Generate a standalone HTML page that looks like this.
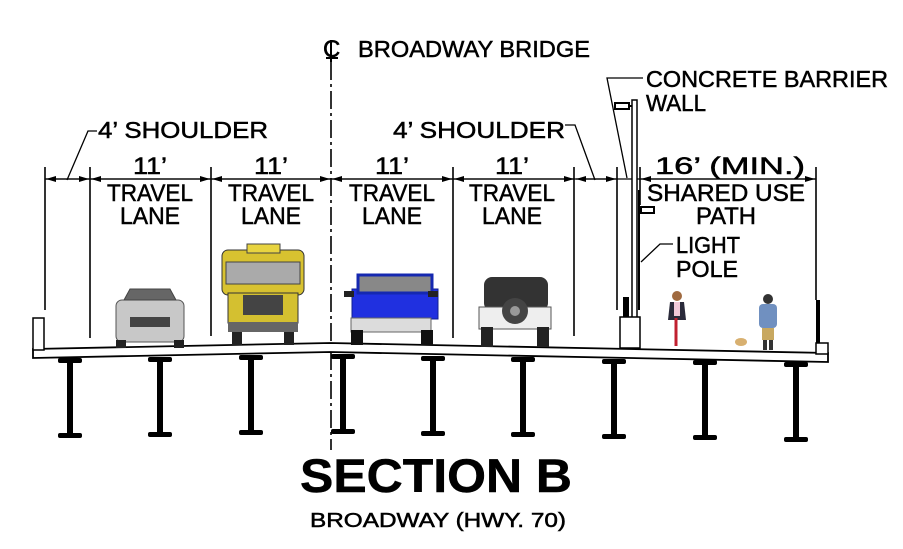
<!DOCTYPE html>
<html><head><meta charset="utf-8"><style>
html,body{margin:0;padding:0;background:#fff}
svg{display:block}
text{font-family:"Liberation Sans",sans-serif;fill:#000}
.t{stroke:#000;stroke-width:0.5}
</style></head><body>
<svg width="903" height="549" viewBox="0 0 903 549" xmlns="http://www.w3.org/2000/svg">
<defs>
<marker id="a" viewBox="0 0 10 6" refX="10" refY="3" markerWidth="10" markerHeight="6" orient="auto-start-reverse" markerUnits="userSpaceOnUse"><path d="M0,0L10,3L0,6Z" fill="#000"/></marker>
<g id="g"><rect x="-12" y="0" width="24" height="5" rx="2"/><rect x="-3" y="3" width="6" height="74"/><rect x="-12" y="75" width="24" height="5" rx="2"/></g>
</defs>
<!-- centerline -->
<line x1="331" y1="62" x2="331" y2="450" stroke="#000" stroke-width="1.6" stroke-dasharray="18,4,3,4"/>
<text x="323" y="57" font-size="24" class="t">C</text>
<line x1="331" y1="40" x2="331" y2="62" stroke="#000" stroke-width="2"/>
<line x1="326" y1="58" x2="338" y2="58" stroke="#000" stroke-width="2"/>
<g class="t">
<text x="358" y="57" font-size="23" textLength="232" lengthAdjust="spacingAndGlyphs">BROADWAY BRIDGE</text>
<text x="98" y="138" font-size="23" textLength="170" lengthAdjust="spacingAndGlyphs">4’ SHOULDER</text>
<text x="393" y="138" font-size="23" textLength="172" lengthAdjust="spacingAndGlyphs">4’ SHOULDER</text>
<text x="646" y="87" font-size="23" textLength="242" lengthAdjust="spacingAndGlyphs">CONCRETE BARRIER</text>
<text x="646" y="111" font-size="23" textLength="60" lengthAdjust="spacingAndGlyphs">WALL</text>
<text x="676" y="253" font-size="23" textLength="64" lengthAdjust="spacingAndGlyphs">LIGHT</text>
<text x="676" y="277" font-size="23" textLength="62" lengthAdjust="spacingAndGlyphs">POLE</text>
</g>
<polyline points="97,131 88,131 67,180" fill="none" stroke="#000" stroke-width="1.3"/>
<polyline points="565,125 575,125 595,180" fill="none" stroke="#000" stroke-width="1.3"/>
<polyline points="643,78 607,78 627,178" fill="none" stroke="#000" stroke-width="1.3"/>
<!-- dimension line -->
<line x1="45" y1="179" x2="816" y2="179" stroke="#000" stroke-width="1.3"/>
<g stroke="#000" stroke-width="1.3" marker-start="url(#a)" marker-end="url(#a)">
<line x1="46" y1="179" x2="89" y2="179"/><line x1="91" y1="179" x2="210" y2="179"/>
<line x1="212" y1="179" x2="330" y2="179"/><line x1="332" y1="179" x2="452" y2="179"/>
<line x1="454" y1="179" x2="574" y2="179"/><line x1="576" y1="179" x2="616" y2="179"/>
<line x1="641" y1="179" x2="815" y2="179"/>
</g>
<g stroke="#000" stroke-width="1.6">
<line x1="45" y1="167" x2="45" y2="310"/><line x1="90" y1="167" x2="90" y2="338"/>
<line x1="211" y1="167" x2="211" y2="336"/><line x1="453" y1="167" x2="453" y2="338"/>
<line x1="574" y1="167" x2="574" y2="336"/><line x1="617" y1="167" x2="617" y2="310"/>
<line x1="640" y1="167" x2="640" y2="205"/><line x1="816" y1="167" x2="816" y2="300"/>
</g>
<g font-size="24" text-anchor="middle" class="t">
<text x="150" y="174" textLength="34" lengthAdjust="spacingAndGlyphs">11’</text><text x="271" y="174" textLength="34" lengthAdjust="spacingAndGlyphs">11’</text><text x="392" y="174" textLength="34" lengthAdjust="spacingAndGlyphs">11’</text><text x="512" y="174" textLength="34" lengthAdjust="spacingAndGlyphs">11’</text>
<text x="150" y="201" textLength="86" lengthAdjust="spacingAndGlyphs">TRAVEL</text><text x="271" y="201" textLength="86" lengthAdjust="spacingAndGlyphs">TRAVEL</text>
<text x="392" y="201" textLength="86" lengthAdjust="spacingAndGlyphs">TRAVEL</text><text x="512" y="201" textLength="86" lengthAdjust="spacingAndGlyphs">TRAVEL</text>
<text x="150" y="224" textLength="60" lengthAdjust="spacingAndGlyphs">LANE</text><text x="271" y="224" textLength="60" lengthAdjust="spacingAndGlyphs">LANE</text><text x="392" y="224" textLength="60" lengthAdjust="spacingAndGlyphs">LANE</text><text x="512" y="224" textLength="60" lengthAdjust="spacingAndGlyphs">LANE</text>
<text x="730" y="174" textLength="150" lengthAdjust="spacingAndGlyphs">16’ (MIN.)</text>
<text x="726" y="201" textLength="158" lengthAdjust="spacingAndGlyphs">SHARED USE</text>
<text x="726" y="224" textLength="60" lengthAdjust="spacingAndGlyphs">PATH</text>
</g>
<!-- light pole -->
<rect x="632" y="100" width="5" height="250" fill="#fff" stroke="#000" stroke-width="1.5"/>
<rect x="615" y="103" width="14" height="6" fill="#fff" stroke="#000" stroke-width="2"/>
<line x1="629" y1="106" x2="632" y2="106" stroke="#000" stroke-width="2"/>
<rect x="641" y="207" width="13" height="6" fill="#fff" stroke="#000" stroke-width="2"/>
<line x1="639" y1="190" x2="639" y2="310" stroke="#000" stroke-width="2"/>
<polyline points="673,244 660,244 641,262" fill="none" stroke="#000" stroke-width="1.3"/>
<!-- deck -->
<polygon points="33,349 330,343 828,353 828,362 330,352 33,358" fill="#fff" stroke="#000" stroke-width="1.8"/>
<rect x="33" y="318" width="11" height="32" fill="#fff" stroke="#000" stroke-width="1.5"/>
<rect x="620" y="317" width="20" height="31" fill="#fff" stroke="#000" stroke-width="1.5"/>
<rect x="623" y="297" width="6" height="20" fill="#000"/>
<rect x="816" y="343" width="12" height="11" fill="#fff" stroke="#000" stroke-width="1.5"/>
<rect x="816" y="300" width="4" height="43" fill="#000"/>
<!-- girders -->
<g fill="#000">
<use href="#g" transform="translate(70,358)"/><use href="#g" transform="translate(160,357)"/>
<use href="#g" transform="translate(251,355)"/><use href="#g" transform="translate(343,354)"/>
<use href="#g" transform="translate(433,356)"/><use href="#g" transform="translate(523,357)"/>
<use href="#g" transform="translate(614,359)"/><use href="#g" transform="translate(705,360)"/>
<use href="#g" transform="translate(796,362)"/>
</g>
<!-- car -->
<rect x="116" y="300" width="68" height="42" rx="6" fill="#c8c8c8" stroke="#555"/>
<path d="M124,300 L130,289 L170,289 L176,300Z" fill="#666" stroke="#444"/>
<rect x="130" y="317" width="40" height="10" fill="#444"/>
<rect x="116" y="340" width="10" height="8" fill="#222"/><rect x="174" y="340" width="10" height="8" fill="#222"/>
<!-- bus -->
<rect x="222" y="250" width="82" height="45" rx="6" fill="#d8c230" stroke="#333"/>
<rect x="226" y="262" width="74" height="22" fill="#aaa" stroke="#444"/>
<rect x="247" y="244" width="33" height="9" fill="#e8d440" stroke="#444"/>
<rect x="228" y="293" width="70" height="30" fill="#d4c030" stroke="#333"/>
<rect x="243" y="295" width="40" height="20" fill="#444"/>
<rect x="228" y="322" width="70" height="10" fill="#666"/>
<rect x="232" y="332" width="10" height="13" fill="#222"/><rect x="284" y="332" width="10" height="13" fill="#222"/>
<!-- pickup -->
<rect x="352" y="289" width="86" height="30" fill="#2030e0" stroke="#102090"/>
<rect x="358" y="275" width="74" height="18" fill="#888" stroke="#1528b0" stroke-width="3"/>
<rect x="351" y="318" width="80" height="14" fill="#dcdcdc" stroke="#666"/>
<rect x="344" y="291" width="10" height="6" fill="#222"/><rect x="428" y="291" width="10" height="6" fill="#222"/>
<rect x="351" y="330" width="12" height="15" fill="#111"/><rect x="421" y="330" width="12" height="15" fill="#111"/>
<!-- jeep -->
<rect x="484" y="277" width="64" height="34" rx="8" fill="#333"/>
<rect x="479" y="307" width="72" height="22" fill="#eee" stroke="#555"/>
<circle cx="515" cy="311" r="13" fill="#444"/><circle cx="515" cy="311" r="5" fill="#999"/>
<rect x="481" y="327" width="12" height="20" fill="#222"/><rect x="537" y="327" width="12" height="20" fill="#222"/>
<!-- cyclist -->
<circle cx="677" cy="296" r="5" fill="#a06a40"/>
<path d="M670,302 L684,302 L686,320 L668,320Z" fill="#2a2a3a"/>
<rect x="674" y="302" width="6" height="14" fill="#f0c8d8"/>
<line x1="676" y1="318" x2="676" y2="346" stroke="#c02030" stroke-width="3"/>
<!-- walker -->
<circle cx="768" cy="299" r="5" fill="#333"/>
<rect x="759" y="304" width="18" height="24" rx="4" fill="#7090c0"/>
<rect x="762" y="328" width="12" height="12" fill="#c8a860"/>
<rect x="763" y="340" width="4" height="10" fill="#333"/><rect x="769" y="340" width="4" height="10" fill="#333"/>
<ellipse cx="741" cy="342" rx="6" ry="4" fill="#d8b070"/>
<!-- titles -->
<text x="300" y="492" font-size="47" font-weight="bold" textLength="272" lengthAdjust="spacingAndGlyphs" class="t">SECTION B</text>
<text x="310" y="527" font-size="20" textLength="256" lengthAdjust="spacingAndGlyphs" class="t">BROADWAY (HWY. 70)</text>
</svg>
</body></html>
